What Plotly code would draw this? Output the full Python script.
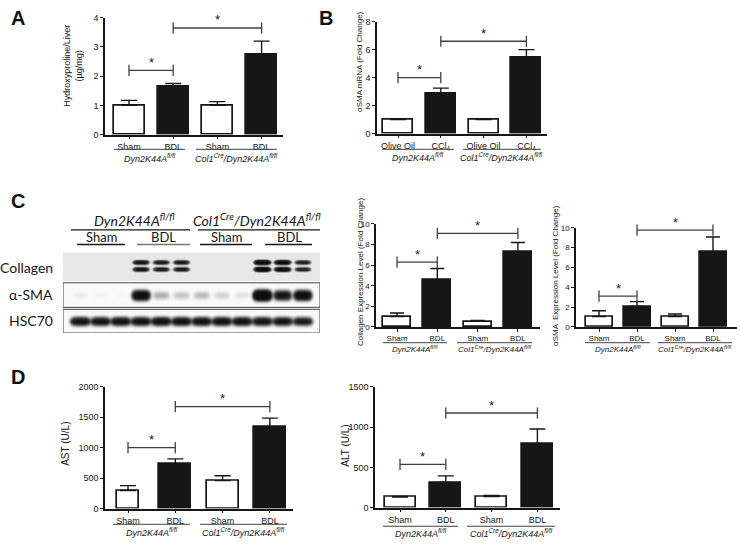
import numpy as np
import plotly.graph_objects as go

W, H = 740, 545

# ---------------- data ----------------
sham_bdl = ["Sham", "BDL", "Sham", "BDL"]
oil_ccl4 = ["Olive Oil", "CCl<sub>4</sub>", "Olive Oil", "CCl<sub>4</sub>"]
group_labels = ["<i>Dyn2K44A<sup>fl/fl</sup></i>",
                "<i>Col1<sup>Cre</sup>/Dyn2K44A<sup>fl/fl</sup></i>"]

hyp_mean = [1.0, 1.65, 1.0, 2.72]
hyp_top = [1.17, 1.75, 1.13, 3.2]
hyp_sig = [(0, 1, 2.2), (1, 3, 3.65)]

mrna_mean = [1.0, 2.85, 1.0, 5.45]
mrna_top = [1.0, 3.25, 1.03, 6.0]
mrna_sig = [(0, 1, 4.0), (1, 3, 6.6)]

colwb_mean = [1.01, 4.57, 0.54, 7.26]
colwb_top = [1.36, 5.68, 0.63, 8.2]
colwb_sig = [(0, 1, 6.3), (1, 3, 9.08)]

smawb_mean = [1.05, 2.07, 1.05, 7.6]
smawb_top = [1.64, 2.56, 1.31, 9.08]
smawb_sig = [(0, 1, 3.11), (1, 3, 9.77)]

ast_mean = [297, 729, 459, 1340]
ast_top = [378, 816, 540, 1486]
ast_sig = [(0, 1, 1000), (1, 3, 1675)]

alt_mean = [130, 313, 138, 793]
alt_top = [138, 394, 150, 976]
alt_sig = [(0, 1, 537), (1, 3, 1175)]

# western blot band intensities (12 lanes: Sham x3, BDL x3, Sham x3, BDL x3)
blot_rows = ["Collagen", "α-SMA", "HSC70"]
collagen_band = [0, 0, 0, 0.9, 0.75, 0.75, 0, 0, 0, 1.6, 1.3, 0.65]
asma_band = [0.02, 0.015, 0.01, 1.2, 0.1, 0.07, 0.08, 0.05, 0.03, 2.0, 0.85, 1.2]
hsc70_band = [0.95, 0.9, 0.95, 0.95, 1.0, 0.95, 0.95, 0.95, 0.95, 0.9, 0.85, 0.75]
blot_groups = group_labels
blot_subgroups = ["Sham", "BDL", "Sham", "BDL"]

# ---------------- helpers ----------------
FONT = "Liberation Sans"
INK = "#161616"
BR = "#404040"


def PX(px):
    return px / W


def PY(py):
    return 1 - py / H


panels = [
    dict(mean=hyp_mean, top=hyp_top, sig=hyp_sig, labels=sham_bdl, ymax=4, dtick=1,
         xl=105, xr=283, y0=132, yt=13, c0=129, sp=44.2, bw=[31] * 4, cap=8, tf=9, gf=9,
         ul=[(114, 185), (196, 277)], uly=147, gly=156,
         title="Hydroxyproline/Liver<br>(µg/mg)", tx=73, ty=62, ttf=9),
    dict(mean=mrna_mean, top=mrna_top, sig=mrna_sig, labels=oil_ccl4, ymax=8, dtick=2,
         xl=377, xr=547, y0=131, yt=17, c0=398, sp=42.8, bw=[30] * 4, cap=8, tf=9, gf=9,
         ul=[(382, 454), (463, 541)], uly=147, gly=155,
         title="αSMA mRNA (Fold Change)", tx=360, ty=58, ttf=8),
    dict(mean=colwb_mean, top=colwb_top, sig=colwb_sig, labels=sham_bdl, ymax=10, dtick=2,
         xl=376, xr=540, y0=328, yt=223, c0=397, sp=40.3, bw=[28] * 4, cap=7, tf=8, gf=8,
         ul=[(383, 447), (457, 532)], uly=344, gly=350,
         title="Collagen Expression Level (Fold Change)", tx=360, ty=272, ttf=8),
    dict(mean=smawb_mean, top=smawb_top, sig=smawb_sig, labels=sham_bdl, ymax=10, dtick=2,
         xl=576, xr=737, y0=328, yt=227, c0=599, sp=38, bw=[27] * 4, cap=7, tf=8, gf=8,
         ul=[(585, 650), (658, 732)], uly=344, gly=350,
         title="αSMA  Expression Level (Fold Change)", tx=556, ty=276, ttf=8),
    dict(mean=ast_mean, top=ast_top, sig=ast_sig, labels=sham_bdl, ymax=2000, dtick=500,
         xl=105, xr=293, y0=513, yt=389, c0=128, sp=47.3, bw=[22, 32, 32, 32], cap=8, tf=9, gf=9,
         ul=[(113, 190), (200, 287)], uly=529, gly=537,
         title="AST (U/L)", tx=66, ty=447, ttf=10),
    dict(mean=alt_mean, top=alt_top, sig=alt_sig, labels=sham_bdl, ymax=1500, dtick=500,
         xl=375, xr=560, y0=512, yt=389, c0=400, sp=45.8, bw=[31] * 4, cap=8, tf=9, gf=9,
         ul=[(383, 458), (467, 555)], uly=531, gly=538,
         title="ALT (U/L)", tx=346, ty=449, ttf=10),
]

fig = go.Figure()
axes = {}
annotations = []
shapes = []

for i, p in enumerate(panels, start=1):
    xa = "x" if i == 1 else f"x{i}"
    ya = "y" if i == 1 else f"y{i}"
    xn = "xaxis" if i == 1 else f"xaxis{i}"
    yn = "yaxis" if i == 1 else f"yaxis{i}"
    sp, c0 = p["sp"], p["c0"]
    xs = [0, 1, 2, 3]
    fig.add_trace(go.Bar(
        x=xs, y=p["mean"], width=[w / sp for w in p["bw"]],
        marker=dict(color=["white", INK, "white", INK], line=dict(color=INK, width=1.7)),
        error_y=dict(type="data", symmetric=False,
                     array=[t - m for t, m in zip(p["top"], p["mean"])],
                     arrayminus=[0] * 4, color=INK, thickness=1.4, width=p["cap"]),
        xaxis=xa, yaxis=ya, hoverinfo="skip", showlegend=False))
    for a, b, h in p["sig"]:
        fig.add_trace(go.Scatter(
            x=[a, b], y=[h, h], mode="lines+markers",
            line=dict(color=BR, width=1.3),
            marker=dict(symbol="line-ns", size=8, line=dict(color=BR, width=1.3)),
            xaxis=xa, yaxis=ya, hoverinfo="skip", showlegend=False, cliponaxis=False))
        annotations.append(dict(x=(a + b) / 2, y=h, xref=xa, yref=ya, text="*",
                                showarrow=False, xanchor="center", yanchor="middle", yshift=8,
                                font=dict(size=13, color=INK, family=FONT)))
    axes[xn] = dict(domain=[PX(p["xl"]), PX(p["xr"])],
                    range=[(p["xl"] - c0) / sp, (p["xr"] - c0) / sp],
                    anchor=ya, showline=True, linecolor=INK, linewidth=1.5,
                    ticks="outside", ticklen=3, tickwidth=1.2, tickcolor=INK,
                    tickvals=xs, ticktext=p["labels"],
                    tickfont=dict(size=p["tf"], color=INK, family=FONT),
                    showgrid=False, zeroline=False, fixedrange=True)
    axes[yn] = dict(domain=[PY(p["y0"]), PY(p["yt"])], range=[0, p["ymax"]],
                    anchor=xa, showline=True, linecolor=INK, linewidth=1.5,
                    ticks="outside", ticklen=3, tickwidth=1.2, tickcolor=INK,
                    dtick=p["dtick"], tick0=0,
                    tickfont=dict(size=p["tf"], color=INK, family=FONT),
                    showgrid=False, zeroline=False, fixedrange=True)
    for (u0, u1), g in zip(p["ul"], group_labels):
        shapes.append(dict(type="line", xref="paper", yref="paper",
                           x0=PX(u0), x1=PX(u1), y0=PY(p["uly"]), y1=PY(p["uly"]),
                           line=dict(color=BR, width=1)))
        annotations.append(dict(x=PX((u0 + u1) / 2), y=PY(p["gly"]), xref="paper", yref="paper",
                                text=g, showarrow=False, xanchor="center", yanchor="middle",
                                font=dict(size=p["gf"], color=INK, family=FONT)))
    annotations.append(dict(x=PX(p["tx"]), y=PY(p["ty"]), xref="paper", yref="paper",
                            text=p["title"], textangle=-90, showarrow=False,
                            xanchor="center", yanchor="middle",
                            font=dict(size=p["ttf"], color=INK, family=FONT)))

# ---------------- western blot (panel C left) ----------------
bi = len(panels) + 1
bxa, bya = f"x{bi}", f"y{bi}"
lane0_px, lane_sp = 80, 20.3
bl, br_, bt, bb = 63, 320, 252, 334
xgrid = np.linspace((bl - lane0_px) / lane_sp + 1, (br_ - lane0_px) / lane_sp + 1, br_ - bl)
ygrid = np.arange(0, bb - bt) + 0.5
XX, YY = np.meshgrid(xgrid, ygrid)

strips = [(0, 29, 0.1), (31, 56, 0.025), (58, 82, 0.025)]
band_specs = [
    (collagen_band, [10.5, 17.5], 1.9, 0.36),
    (asma_band, [43.5], 4.0, 0.40),
    (hsc70_band, [70], 3.8, 0.44),
]
z = np.zeros_like(XX)
for (s0, s1, bg), (amps, cys, hy, wx) in zip(strips, band_specs):
    inside = (YY >= s0) & (YY <= s1)
    tot = np.zeros_like(XX)
    for lane, a in enumerate(amps, start=1):
        for cy in cys:
            tot += a * np.exp(-np.abs((XX - lane) / wx) ** 4 - ((YY - cy) / hy) ** 2)
    dark = 1 - np.exp(-4 * tot)
    z = np.where(inside, np.maximum(bg, dark), z)

fig.add_trace(go.Heatmap(x=xgrid, y=ygrid, z=z, zmin=0, zmax=1,
                         colorscale=[[0, "#ffffff"], [1, "#0c0c0c"]], showscale=False,
                         hoverinfo="skip", xaxis=bxa, yaxis=bya))
axes[f"xaxis{bi}"] = dict(domain=[PX(bl), PX(br_)], range=[xgrid[0], xgrid[-1]], anchor=bya,
                          visible=False, fixedrange=True)
axes[f"yaxis{bi}"] = dict(domain=[PY(bb), PY(bt)], range=[bb - bt, 0], anchor=bxa,
                          visible=False, fixedrange=True)
for s0, s1, _ in strips[1:]:
    shapes.append(dict(type="rect", xref=bxa, yref=bya, x0=xgrid[0], x1=xgrid[-1],
                       y0=s0, y1=s1, line=dict(color="#444", width=1)))

BF = "Lato"
for name, ypx in zip(blot_rows, [267, 295, 321]):
    annotations.append(dict(x=PX(55), y=PY(ypx), xref="paper", yref="paper", text=name,
                            xanchor="right", yanchor="middle", showarrow=False,
                            font=dict(size=14, color=INK, family=BF)))
for g, cx, (l0, l1) in zip(blot_groups, [134, 257], [(71, 190), (198, 320)]):
    annotations.append(dict(x=PX(cx), y=PY(219), xref="paper", yref="paper", text=g,
                            xanchor="center", yanchor="middle",
                            showarrow=False, font=dict(size=14, color=INK, family=BF)))
    shapes.append(dict(type="line", xref="paper", yref="paper", x0=PX(l0), x1=PX(l1),
                       y0=PY(229), y1=PY(229), line=dict(color=INK, width=1.3)))
for s, cx, (l0, l1), col in zip(blot_subgroups, [101, 163, 226, 289],
                                [(77, 125), (137, 190), (200, 252), (265, 312)],
                                [INK, "#777", INK, INK]):
    annotations.append(dict(x=PX(cx), y=PY(236), xref="paper", yref="paper", text=s,
                            xanchor="center", yanchor="middle",
                            showarrow=False, font=dict(size=13, color=INK, family=BF)))
    shapes.append(dict(type="line", xref="paper", yref="paper", x0=PX(l0), x1=PX(l1),
                       y0=PY(244), y1=PY(244), line=dict(color=col, width=1.3)))

# panel letters
for letter, lx, ly in [("A", 9, 13), ("B", 317, 13), ("C", 9, 200), ("D", 9, 379)]:
    annotations.append(dict(x=PX(lx), y=PY(ly), xref="paper", yref="paper", text=f"<b>{letter}</b>",
                            xanchor="left", yanchor="middle", showarrow=False,
                            font=dict(size=20, color="#111", family=FONT)))

fig.update_layout(width=W, height=H, margin=dict(l=0, r=0, t=0, b=0),
                  paper_bgcolor="white", plot_bgcolor="rgba(0,0,0,0)",
                  showlegend=False, bargap=0, annotations=annotations, shapes=shapes,
                  **axes)
fig.write_html("out.html", config={"displayModeBar": False},
               post_script="document.body.style.margin='0';")
